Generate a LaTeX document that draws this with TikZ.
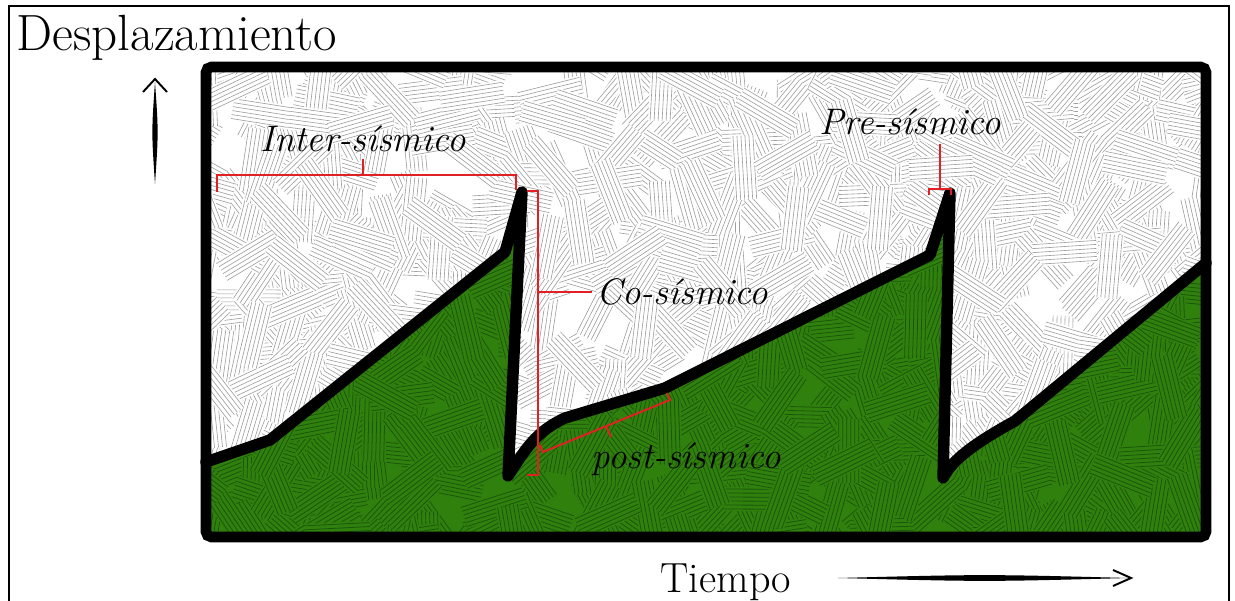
\documentclass[tikz,border=0pt]{standalone}
\usepackage{tikz}
\usetikzlibrary{calc}
\definecolor{fieldgreen}{RGB}{48,128,14}
\definecolor{fieldline}{RGB}{28,86,10}
\definecolor{markred}{RGB}{226,32,36}
\tikzset{
  chip fill/.style={fill=white},
  chip line/.style={draw=black!38, line width=0.35pt},
  chip/.pic={
    \fill[chip fill] (-32,-12) rectangle (32,12);
    \foreach \k in {-10,-6,...,10.1} \draw[chip line] (-32,\k) -- (32,\k);
  },
  profile/.style={line width=6.5pt, line join=round, line cap=round},
  bracket/.style={markred, line width=1.1pt},
  phase/.style={font=\fontsize{21}{24}\selectfont\itshape, inner sep=0pt},
  barb/.style={line width=1.1pt, line join=miter}
}

\begin{document}
\begin{tikzpicture}[x=0.02cm, y=-0.02cm]
\useasboundingbox (0,0) rectangle (1235,601);
\draw[line width=0.9pt] (9,601) -- (9,6) -- (1229,6) -- (1229,601);

\coordinate (p1) at (206,462);
\coordinate (p2) at (270,440);
\coordinate (p3) at (505,252);
\coordinate (p4) at (522,192);
\coordinate (p5) at (508,476);
\coordinate (p6) at (565,418);
\coordinate (p7) at (665,388);
\coordinate (p8) at (930,255);
\coordinate (p9) at (950,193);
\coordinate (p10) at (943,478);
\coordinate (p11) at (1015,421);
\coordinate (p12) at (1206,263);

\begin{scope}
\clip (206,67) rectangle (1206,537);
\fill[white] (206,67) rectangle (1206,537);
\pgfmathsetseed{7}
\foreach \i in {1,...,850}{
  \pgfmathsetmacro\cx{190+1030*rnd}
  \pgfmathsetmacro\cy{55+495*rnd}
  \pgfmathsetmacro\ca{180*rnd}
  \pic[rotate=\ca] at (\cx,\cy) {chip};
}
\end{scope}

\begin{scope}[chip fill/.style={fill=fieldgreen}, chip line/.style={draw=fieldline, line width=0.45pt}]
\clip (206,537) -- (p1) -- (p2) -- (p3) -- (p4) -- (p5) .. controls (525,450) and (535,432) .. (p6) -- (p7) -- (p8) -- (p9) -- (p10) .. controls (950,465) and (962,450) .. (p11) -- (p12) -- (1206,537) -- cycle;
\fill[fieldgreen] (206,180) rectangle (1206,537);
\pgfmathsetseed{21}
\foreach \i in {1,...,650}{
  \pgfmathsetmacro\cx{190+1030*rnd}
  \pgfmathsetmacro\cy{180+370*rnd}
  \pgfmathsetmacro\ca{180*rnd}
  \pic[rotate=\ca] at (\cx,\cy) {chip};
}
\end{scope}

\draw[profile] (p1) -- (p2) -- (p3) -- (p4) -- (p5) .. controls (525,450) and (535,432) .. (p6) -- (p7) -- (p8) -- (p9) -- (p10) .. controls (950,465) and (962,450) .. (p11) -- (p12);
\draw[line width=6pt, rounded corners=3pt] (206,67) rectangle (1206,537);

\node[phase, anchor=base] (inter) at (363,152) {Inter-sísmico};
\node[phase, anchor=base west] (co) at (596,305) {Co-sísmico};
\node[phase, anchor=base] (pre) at (910,135) {Pre-sísmico};
\node[phase, anchor=base] (post) at (686,468) {post-sísmico};

\coordinate (intertick) at (363,175);
\coordinate (cotick) at (538,292);
\coordinate (pretick) at (940,189);
\draw[bracket] (217,192) -- (217,175) -- (516,175) -- (516,190);
\draw[bracket] (intertick) -- ([yshift=-0.12cm]intertick |- inter.south);
\draw[bracket] (527,191) -- (538,191) -- (538,475) -- (527,475);
\draw[bracket] (cotick) -- ([xshift=-0.08cm]cotick -| co.west);
\draw[bracket] (540,445) -- (543,452) -- (670,400) -- (667,393);
\draw[bracket] (606,426) -- (611,437);
\draw[bracket] (929,195) -- (929,189) -- (951,189) -- (951,195);
\draw[bracket] (pretick) -- ([yshift=-0.16cm]pretick |- pre.south);

\node[inner sep=0pt, anchor=base, font=\fontsize{29}{32}\selectfont] (desp) at (177,51) {Desplazamiento};
\node[inner sep=0pt, anchor=base, font=\fontsize{24}{28}\selectfont] (tiempo) at (726,592) {Tiempo};

\fill (155,82) .. controls (158.5,132) .. (155,184) .. controls (151.5,132) .. (155,82) -- cycle;
\draw[barb] (143,92) -- (155,79) -- (167,92);
\fill (838,578) .. controls (985,574.2) .. (1129,578) .. controls (985,581.8) .. (838,578) -- cycle;
\draw[barb] (1113,570) -- (1131,578) -- (1113,586);
\end{tikzpicture}
\end{document}
